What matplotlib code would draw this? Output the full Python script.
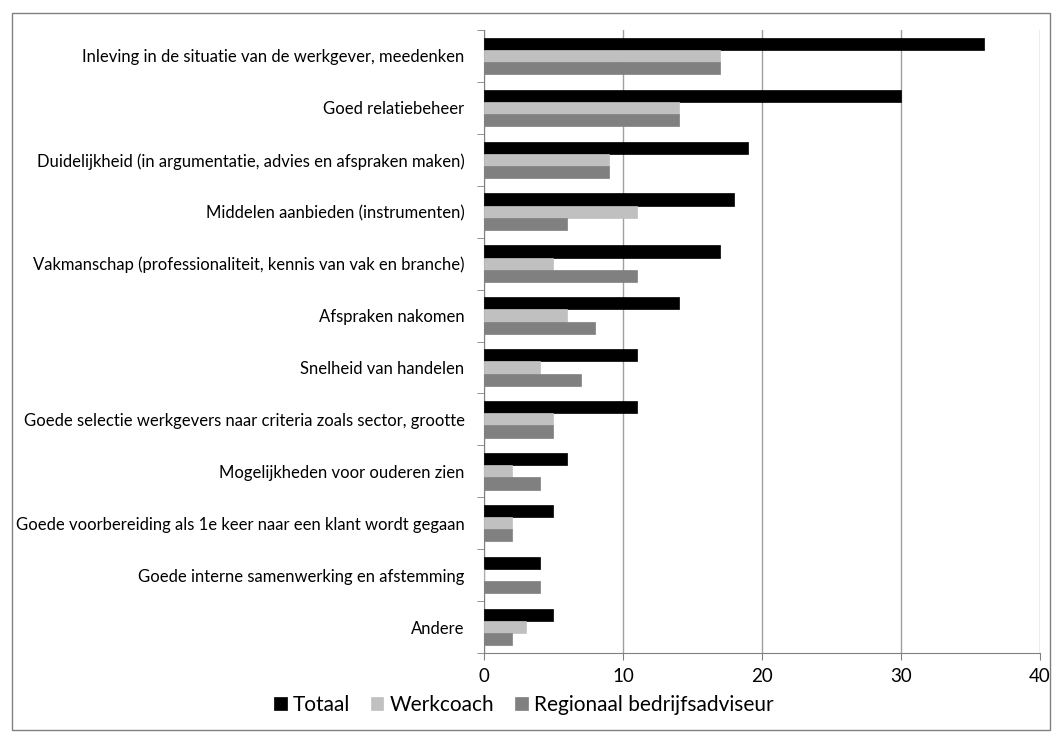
import matplotlib.pyplot as plt
import numpy as np
from matplotlib.patches import Rectangle

plt.rcParams['font.family'] = ['Lato', 'DejaVu Sans']

categories = [
    'Inleving in de situatie van de werkgever, meedenken',
    'Goed relatiebeheer',
    'Duidelijkheid (in argumentatie, advies en afspraken maken)',
    'Middelen aanbieden (instrumenten)',
    'Vakmanschap (professionaliteit, kennis van vak en branche)',
    'Afspraken nakomen',
    'Snelheid van handelen',
    'Goede selectie werkgevers naar criteria zoals sector, grootte',
    'Mogelijkheden voor ouderen zien',
    'Goede voorbereiding als 1e keer naar een klant wordt gegaan',
    'Goede interne samenwerking en afstemming',
    'Andere',
]
totaal = [36, 30, 19, 18, 17, 14, 11, 11, 6, 5, 4, 5]
werkcoach = [17, 14, 9, 11, 5, 6, 4, 5, 2, 2, 0, 3]
regionaal = [17, 14, 9, 6, 11, 8, 7, 5, 4, 2, 4, 2]

series = ['Totaal', 'Werkcoach', 'Regionaal bedrijfsadviseur']
colors = ['#000000', '#c0c0c0', '#808080']

fig = plt.figure(figsize=(10.56, 7.36), dpi=100)
ax = fig.add_axes([0.4583, 0.1128, 0.5265, 0.8464])

n = len(categories)
y = np.arange(n)
h = 0.235
for i, (vals, name, c) in enumerate(zip([totaal, werkcoach, regionaal], series, colors)):
    ax.barh(y - h + i * h, vals, height=h, color=c, label=name,
            edgecolor=c, linewidth=0.5, zorder=3)

ax.set_ylim(n - 0.5, -0.5)
ax.set_xlim(0, 40)
ax.set_xticks([0, 10, 20, 30, 40])
ax.tick_params(axis='x', labelsize=13.5, length=5, color='#808080', pad=6)
ax.set_yticks(y)
ax.set_yticklabels(categories, fontsize=12)
ax.tick_params(axis='y', length=0, pad=14)
# small tick marks between categories
ax.set_yticks(np.arange(n + 1) - 0.5, minor=True)
ax.tick_params(axis='y', which='minor', length=5, color='#808080')

ax.grid(axis='x', color='#a0a0a0', linewidth=1, zorder=0)
for s in ['top', 'right']:
    ax.spines[s].set_visible(False)
for s in ['left', 'bottom']:
    ax.spines[s].set_color('#808080')

fig.legend(loc='center', bbox_to_anchor=(0.496, 0.042), ncol=3, frameon=False,
           fontsize=15, handlelength=0.6, handleheight=0.6, handletextpad=0.3,
           columnspacing=1.0, borderaxespad=0)

fig.patches.append(Rectangle((0.011, 0.008), 0.983, 0.975, transform=fig.transFigure,
                             fill=False, edgecolor='#808080', linewidth=1))

fig.savefig('out.png', dpi=100)
